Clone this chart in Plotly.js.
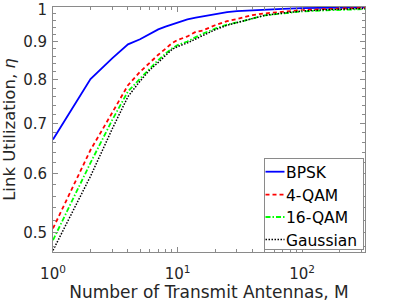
<!DOCTYPE html>
<html>
<head>
<meta charset="utf-8">
<script src="https://cdn.plot.ly/plotly-3.0.1.min.js"></script>
<style>html,body{margin:0;padding:0;background:#fff;}#chart{width:403px;height:302px;}</style>
</head>
<body>
<div id="chart"></div>
<script>
// Number of transmit antennas M
var antennas = [1,2,3,4,5,6,7,8,9,10,12,14,16,20,25,30,40,50,70,100,150,200,320];
var bpsk     = [0.666,0.802,0.855,0.892,0.906,0.921,0.934,0.942,0.948,0.954,0.963,0.968,0.972,0.979,0.985,0.988,0.991,0.993,0.995,0.997,0.998,0.999,0.9995];
var qam4     = [0.507,0.645,0.724,0.787,0.820,0.844,0.864,0.880,0.895,0.904,0.914,0.927,0.931,0.946,0.958,0.964,0.976,0.981,0.986,0.991,0.994,0.996,0.998];
var qam16    = [0.489,0.620,0.708,0.772,0.803,0.829,0.850,0.867,0.881,0.890,0.900,0.912,0.922,0.936,0.948,0.954,0.966,0.975,0.981,0.987,0.990,0.992,0.994];
var gaussian = [0.474,0.595,0.689,0.760,0.797,0.825,0.844,0.863,0.878,0.886,0.896,0.907,0.917,0.933,0.946,0.953,0.966,0.975,0.982,0.988,0.992,0.994,0.996];
var seriesNames = ['BPSK','4-QAM','16-QAM','Gaussian'];
var xTickVals = [1,10,100];
var xTickText = ['10<sup>0</sup>','10<sup>1</sup>','10<sup>2</sup>'];
var yTickVals = [0.5,0.6,0.7,0.8,0.9,1];
var yTickText = ['0.5','0.6','0.7','0.8','0.9','1'];

var FONT = 'DejaVu Sans, Arial, sans-serif';
var AX = '#8a8a8a';

var xMinor = [];
[1,10,100].forEach(function(d){ for (var k=2;k<=9;k++){ xMinor.push(d*k); } });
var yMinor = [];
for (var v=48; v<=98; v+=2){ if (v%10!==0) yMinor.push(v/100); }

var traces = [
  {x: antennas, y: bpsk, name: seriesNames[0], mode:'lines', line:{color:'#0000ff', width:1.8}},
  {x: antennas, y: qam4, name: seriesNames[1], mode:'lines', line:{color:'#ff0000', width:1.8, dash:'4px,3px'}},
  {x: antennas, y: qam16, name: seriesNames[2], mode:'lines', line:{color:'#00ff00', width:1.8, dash:'5px,2px,1.5px,2px'}},
  {x: antennas, y: gaussian, name: seriesNames[3], mode:'lines', line:{color:'#000000', width:1.5, dash:'1.5px,1.5px'}}
];

var layout = {
  width: 403, height: 302,
  margin: {l:53, r:38, t:7, b:50, pad:0},
  paper_bgcolor:'#fff', plot_bgcolor:'#fff',
  font: {family: FONT, size: 15, color:'#262626'},
  showlegend: true,
  xaxis: {
    type:'log', range:[0, Math.log10(320)],
    tickmode:'array', tickvals:xTickVals, ticktext:xTickText,
    ticks:'inside', ticklen:5, tickwidth:1, tickcolor:AX,
    showline:true, linecolor:AX, linewidth:1, mirror:'allticks',
    showgrid:false, zeroline:false,
    minor:{tickmode:'array', tickvals:xMinor, ticks:'inside', ticklen:3, tickcolor:AX, showgrid:false},
    tickfont:{family:FONT, size:15, color:'#262626'},
    ticklabelstandoff: 8, ticklabeloverflow:'allow',
    title:{text:'Number of Transmit Antennas, M', font:{family:FONT, size:17, color:'#262626'}, standoff:3}
  },
  yaxis: {
    type:'log', range:[Math.log10(0.4716), 0.0002],
    tickmode:'array', tickvals:yTickVals, ticktext:yTickText,
    ticks:'inside', ticklen:5, tickwidth:1, tickcolor:AX,
    showline:true, linecolor:AX, linewidth:1, mirror:'allticks',
    showgrid:false, zeroline:false,
    minor:{tickmode:'array', tickvals:yMinor, ticks:'inside', ticklen:3, tickcolor:AX, showgrid:false},
    tickfont:{family:FONT, size:15, color:'#262626'},
    ticklabelstandoff: 2, ticklabeloverflow:'allow',
    title:{text:'Link Utilization, <i>η</i>', font:{family:FONT, size:16.5, color:'#262626'}, standoff:5}
  },
  legend: {
    x:0.99, y:0.012, xanchor:'right', yanchor:'bottom',
    bgcolor:'#fff', bordercolor:AX, borderwidth:1,
    font:{family:FONT, size:15.5, color:'#000'},
    tracegroupgap:0
  }
};

function adjust(gd){
  // MATLAB-style compact legend box: short line samples, tight rows
  var leg = gd.querySelector('g.legend');
  if (leg) {
    var boxLeft = 264, boxTop = 158, boxW = 99, boxH = 91;
    var rows = [13.7, 36.6, 59.0, 81.6];
    leg.setAttribute('transform', 'translate(' + boxLeft + ',' + boxTop + ')');
    var bg = leg.querySelector('rect.bg');
    if (bg) { bg.setAttribute('width', boxW); bg.setAttribute('height', boxH); bg.setAttribute('x', 0.5); bg.setAttribute('y', 0.5); }
    var sb = leg.querySelector('g.scrollbox');
    if (sb) { sb.removeAttribute('clip-path'); sb.setAttribute('transform', 'translate(0,0)'); }
    leg.querySelectorAll('g.traces').forEach(function(t, i){
      t.setAttribute('transform', 'translate(0,' + rows[i] + ')');
      var p = t.querySelector('path.js-line');
      if (p) p.setAttribute('d', 'M1.5,0h19');
      var tx = t.querySelector('text.legendtext');
      if (tx) tx.setAttribute('x', 22);
    });
    var sbar = leg.querySelector('rect.scrollbar');
    if (sbar) sbar.style.display = 'none';
  }
  // keep the top "1" label inside the figure, as in the reference
  gd.querySelectorAll('g.ytick text').forEach(function(t){
    if (t.textContent === '1' && !t.getAttribute('data-moved')) {
      t.setAttribute('y', (+t.getAttribute('y') || 0) + 3);
      t.setAttribute('data-moved', '1');
    }
  });
}

Plotly.newPlot('chart', traces, layout, {staticPlot:true, displayModeBar:false}).then(function(gd){
  adjust(gd);
  setTimeout(function(){ adjust(gd); }, 50);
});
</script>
</body>
</html>
